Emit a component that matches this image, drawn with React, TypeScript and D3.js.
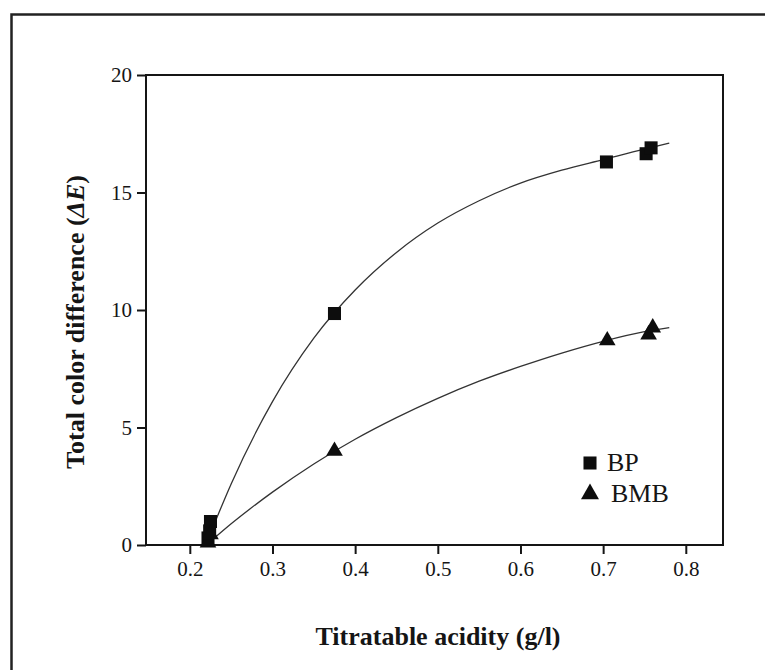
import React, { useEffect, useRef } from "react";
import * as d3 from "d3";

// Measured points (titratable acidity g/l, total color difference ΔE)
const bpX = [0.222, 0.224, 0.225, 0.375, 0.704, 0.752, 0.758];
const bpY = [0.3, 0.6, 1.0, 9.85, 16.3, 16.65, 16.9];
const bmbX = [0.222, 0.225, 0.375, 0.705, 0.755, 0.76];
const bmbY = [0.1, 0.45, 4.0, 8.7, 8.95, 9.25];

// Fitted curves
const fitX = [0.225, 0.25, 0.3, 0.35, 0.4, 0.45, 0.5, 0.55, 0.6, 0.65, 0.7, 0.75, 0.78];
const bpFitY = [0.5, 2.6, 6.1, 8.8, 10.85, 12.45, 13.7, 14.65, 15.4, 15.95, 16.4, 16.85, 17.1];
const bmbFitY = [0.15, 0.9, 2.25, 3.45, 4.5, 5.42, 6.24, 6.97, 7.6, 8.17, 8.67, 9.08, 9.25];

const xTicks = [0.2, 0.3, 0.4, 0.5, 0.6, 0.7, 0.8];
const yTicks = [0, 5, 10, 15, 20];
const legendLabels = ["BP", "BMB"];

export default function App() {
  const chartRef = useRef<SVGSVGElement>(null);

  useEffect(() => {
    const svg = d3.select(chartRef.current);
    svg.selectAll("*").remove();

    const width = 765;
    const height = 670;
    const left = 146;
    const right = 723;
    const top = 75;
    const bottom = 545;
    const font = "'Liberation Serif', 'Times New Roman', serif";
    const ink = "#151515";

    const x = d3.scaleLinear().domain([0.147, 0.845]).range([left, right]);
    const y = d3.scaleLinear().domain([0, 20]).range([bottom, top]);

    svg.attr("width", width).attr("height", height).style("background", "#fff");

    // outer figure frame (only top and left edges visible)
    svg
      .append("path")
      .attr("d", `M11.5,${height} V14.5 H${width}`)
      .attr("fill", "none")
      .attr("stroke", "#222")
      .attr("stroke-width", 2.5);

    // plot box
    svg
      .append("rect")
      .attr("x", left)
      .attr("y", top)
      .attr("width", right - left)
      .attr("height", bottom - top)
      .attr("fill", "none")
      .attr("stroke", ink)
      .attr("stroke-width", 2);

    // x axis
    const xAxis = svg
      .append("g")
      .attr("transform", `translate(0,${bottom})`)
      .call(
        d3
          .axisBottom(x)
          .tickValues(xTicks)
          .tickSize(9)
          .tickPadding(7)
          .tickFormat(d3.format(".1f"))
      );
    xAxis.select(".domain").remove();
    xAxis.selectAll("line").attr("stroke", ink).attr("stroke-width", 2);
    xAxis
      .selectAll("text")
      .attr("fill", ink)
      .style("font-family", font)
      .style("font-size", "21px");

    // y axis
    const yAxis = svg
      .append("g")
      .attr("transform", `translate(${left},0)`)
      .call(d3.axisLeft(y).tickValues(yTicks).tickSize(9).tickPadding(5));
    yAxis.select(".domain").remove();
    yAxis.selectAll("line").attr("stroke", ink).attr("stroke-width", 2);
    yAxis
      .selectAll("text")
      .attr("fill", ink)
      .style("font-family", font)
      .style("font-size", "21px");

    // axis titles
    svg
      .append("text")
      .attr("x", 438)
      .attr("y", 645)
      .attr("text-anchor", "middle")
      .attr("fill", ink)
      .style("font-family", font)
      .style("font-weight", "bold")
      .style("font-size", "26px")
      .text("Titratable acidity (g/l)");

    const yTitle = svg
      .append("text")
      .attr("transform", `translate(84,${(top + bottom) / 2 + 12}) rotate(-90)`)
      .attr("text-anchor", "middle")
      .attr("fill", ink)
      .style("font-family", font)
      .style("font-weight", "bold")
      .style("font-size", "26px");
    yTitle.append("tspan").text("Total color difference (");
    yTitle.append("tspan").style("font-style", "italic").text("ΔE");
    yTitle.append("tspan").text(")");

    // fitted curves
    const line = d3
      .line<number>()
      .x(d => x(fitX[d]))
      .curve(d3.curveMonotoneX);
    [bpFitY, bmbFitY].forEach(fy => {
      svg
        .append("path")
        .attr("d", line.y(d => y(fy[d]))(fitX.map((_, i) => i)))
        .attr("fill", "none")
        .attr("stroke", "#333")
        .attr("stroke-width", 1.3);
    });

    const square = d3.symbol().type(d3.symbolSquare).size(170)();
    const triangle = d3.symbol().type(d3.symbolTriangle).size(120)();
    const legendTriangle = d3.symbol().type(d3.symbolTriangle).size(140)();

    // BP squares
    svg
      .append("g")
      .selectAll("path")
      .data(bpX.map((v, i) => [v, bpY[i]]))
      .join("path")
      .attr("d", square)
      .attr("transform", d => `translate(${x(d[0])},${y(d[1])})`)
      .attr("fill", "#0d0d0d");

    // BMB triangles
    svg
      .append("g")
      .selectAll("path")
      .data(bmbX.map((v, i) => [v, bmbY[i]]))
      .join("path")
      .attr("d", triangle)
      .attr("transform", d => `translate(${x(d[0])},${y(d[1])})`)
      .attr("fill", "#0d0d0d");

    // legend
    const legend = svg.append("g").attr("transform", "translate(590,463)");
    legendLabels.forEach((label, i) => {
      const g = legend.append("g").attr("transform", `translate(0,${i * 31})`);
      g.append("path")
        .attr("d", i === 0 ? square : legendTriangle)
        .attr("fill", "#0d0d0d");
      g.append("text")
        .attr("x", i === 0 ? 17 : 21)
        .attr("y", 8)
        .attr("fill", ink)
        .style("font-family", font)
        .style("font-size", "26px")
        .text(label);
    });
  }, []);

  return (
    <div style={{ position: "absolute", left: 0, top: 0 }}>
      <svg ref={chartRef}></svg>
    </div>
  );
}
